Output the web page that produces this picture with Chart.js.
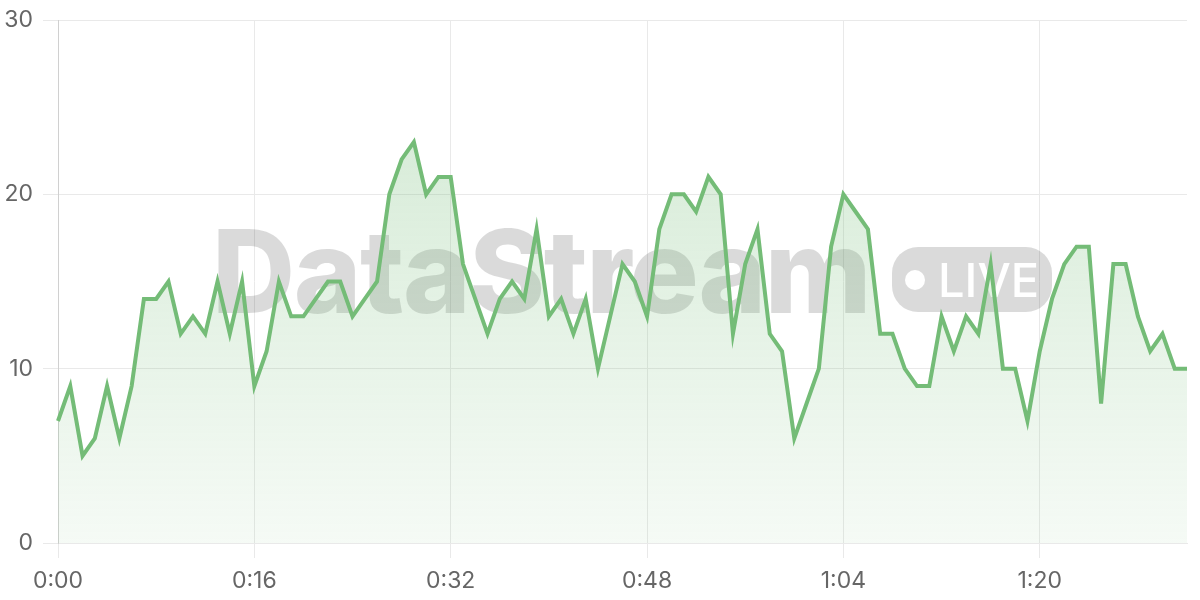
<!DOCTYPE html>
<html>
<head>
<meta charset="utf-8">
<script src="https://cdn.jsdelivr.net/npm/chart.js@4.4.0/dist/chart.umd.min.js"></script>
<style>
  html, body { margin: 0; padding: 0; background: #ffffff; }
  #wrap { width: 1200px; height: 600px; }
</style>
</head>
<body>
<div id="wrap"><canvas id="c" width="1200" height="600"></canvas></div>
<script>
// ---- data (one value per second) ----
const values = [
  7, 9, 5, 6, 9, 6, 9, 14, 14, 15, 12, 13, 12, 15, 12, 15, 9,
  11, 15, 13, 13, 14, 15, 15, 13, 14, 15, 20, 22, 23, 20, 21, 21,
  16, 14, 12, 14, 15, 14, 18, 13, 14, 12, 14, 10, 13, 16, 15, 13,
  18, 20, 20, 19, 21, 20, 12, 16, 18, 12, 11, 6, 8, 10, 17, 20,
  19, 18, 12, 12, 10, 9, 9, 13, 11, 13, 12, 16, 10, 10, 7, 11,
  14, 16, 17, 17, 8, 16, 16, 13, 11, 12, 10, 10
];
const timeLabels = values.map((_, i) => Math.floor(i / 60) + ':' + String(i % 60).padStart(2, '0'));
const xTickEvery = 16;
const yMin = 0, yMax = 30, yStep = 10;
const watermarkText = 'DataStream';
const badgeText = 'LIVE';

const lineColor = '#74bc77';
const gridColor = '#e9e9e9';
const axisColor = '#d0d0d0';

const watermark = {
  id: 'watermark',
  beforeDatasetsDraw(chart) {
    const ctx = chart.ctx;
    ctx.save();
    const grey = 'rgba(0,0,0,0.145)';
    ctx.fillStyle = grey;
    ctx.font = '800 115px Inter';
    ctx.textBaseline = 'alphabetic';
    ctx.textAlign = 'left';
    const w = ctx.measureText(watermarkText).width;
    if ('letterSpacing' in ctx) {
      ctx.letterSpacing = ((658 - w) / watermarkText.length) + 'px';
      ctx.fillText(watermarkText, 212, 313);
      ctx.letterSpacing = '0px';
    } else {
      ctx.save();
      ctx.translate(212, 313);
      ctx.scale(658 / w, 1);
      ctx.fillText(watermarkText, 0, 0);
      ctx.restore();
    }
    // pill
    ctx.beginPath();
    ctx.roundRect(892, 247, 160, 65, 26);
    ctx.fill();
    ctx.fillStyle = '#ffffff';
    ctx.beginPath();
    ctx.arc(915, 280, 10, 0, Math.PI * 2);
    ctx.fill();
    ctx.font = '500 47px Inter';
    ctx.fillText(badgeText, 938, 297);
    ctx.restore();
  }
};

const ctx = document.getElementById('c').getContext('2d');
new Chart(ctx, {
  type: 'line',
  data: {
    labels: timeLabels,
    datasets: [{
      data: values,
      borderColor: lineColor,
      borderWidth: 4,
      tension: 0,
      pointRadius: 0,
      pointHoverRadius: 0,
      fill: 'origin',
      backgroundColor: (c) => {
        const area = c.chart.chartArea;
        if (!area) return 'rgba(116,188,119,0.15)';
        const g = c.chart.ctx.createLinearGradient(0, area.top, 0, area.bottom);
        g.addColorStop(0, 'rgba(116,188,119,0.34)');
        g.addColorStop(1, 'rgba(116,188,119,0.07)');
        return g;
      }
    }]
  },
  options: {
    responsive: false,
    animation: false,
    devicePixelRatio: 1,
    layout: { padding: { top: 20, right: 13, left: 5, bottom: 0 } },
    plugins: { legend: { display: false }, tooltip: { enabled: false } },
    scales: {
      x: {
        type: 'category',
        offset: false,
        afterFit: (s) => { s.height = 57; },
        grid: {
          color: (c) => (c.index === 0 ? axisColor : gridColor),
          tickColor: gridColor,
          lineWidth: 1,
          tickLength: 15,
          drawTicks: true
        },
        border: { color: gridColor },
        ticks: {
          autoSkip: false,
          maxRotation: 0,
          padding: 9,
          color: '#666666',
          font: { family: 'Inter', size: 23 },
          callback: function (value, index) {
            return index % xTickEvery === 0 ? this.getLabelForValue(value) : null;
          }
        }
      },
      y: {
        min: yMin,
        max: yMax,
        afterFit: (s) => { s.width = 53; s.paddingTop = 0; s.paddingBottom = 0; },
        grid: { color: gridColor, lineWidth: 1, tickLength: 15 },
        border: { color: axisColor },
        ticks: {
          stepSize: yStep,
          padding: 10,
          color: '#666666',
          font: { family: 'Inter', size: 23 }
        }
      }
    }
  },
  plugins: [watermark]
});
</script>
</body>
</html>
